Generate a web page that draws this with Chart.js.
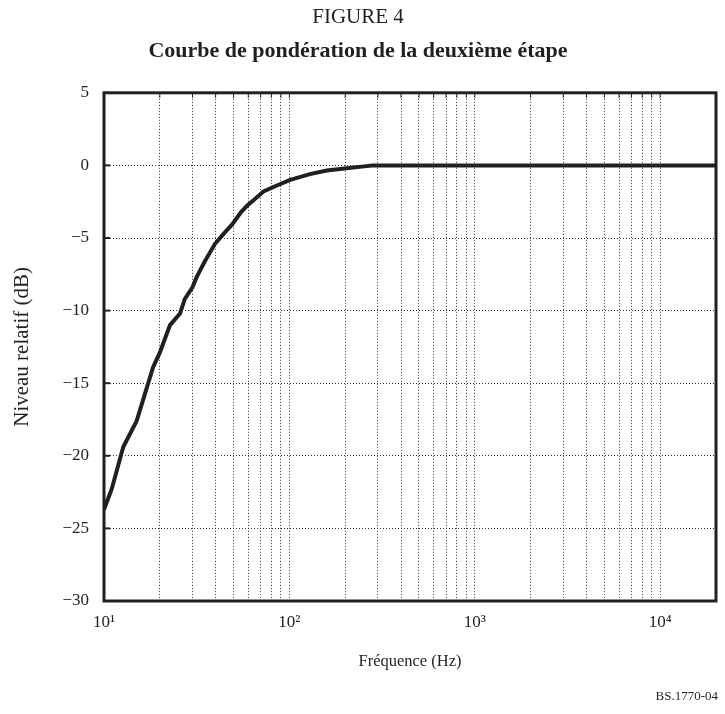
<!DOCTYPE html>
<html lang="fr">
<head>
<meta charset="utf-8">
<title>Figure 4</title>
<script src="https://cdn.jsdelivr.net/npm/chart.js@4/dist/chart.umd.min.js"></script>
<style>
  html, body { margin: 0; padding: 0; background: #fff; }
  #cadre { position: relative; width: 725px; height: 714px; }
  #reference { position: absolute; right: 7px; top: 688px; font: 13px "Liberation Serif", serif; color: #231f20; }
</style>
</head>
<body>
<div id="cadre">
  <canvas id="graphique" width="725" height="714"></canvas>
  <div id="reference">BS.1770-04</div>
</div>
<script>
// Points (fréquence en Hz, niveau relatif en dB)
const frequences = [10, 11, 12.7, 15, 18.4, 20, 22.7, 25.7, 27.3, 30, 31.6, 35, 39.7, 45, 48.9, 55, 58.9, 64, 72.5, 85, 101, 129, 159, 204, 260, 280, 20000];
const niveaux = [-23.7, -22.3, -19.4, -17.6, -13.9, -12.9, -11.0, -10.2, -9.2, -8.4, -7.7, -6.6, -5.4, -4.6, -4.1, -3.2, -2.8, -2.4, -1.8, -1.4, -1.0, -0.6, -0.35, -0.2, -0.05, 0, 0];

// Graduations de l'axe des fréquences
const lignesX = [10, 20, 30, 40, 50, 60, 70, 80, 90, 100, 200, 300, 400, 500, 600, 700, 800, 900, 1000, 2000, 3000, 4000, 5000, 6000, 7000, 8000, 9000, 10000];
const decades = [10, 100, 1000, 10000];
const etiquettesX = ['10¹', '10²', '10³', '10⁴'];
const graduationsY = [5, 0, -5, -10, -15, -20, -25, -30];

const encre = '#231f20';
const police = '"Liberation Serif", "Times New Roman", serif';

// Cadre épais et petites graduations vers l'intérieur
const cadrePlugin = {
    id: 'cadre',
    afterDatasetsDraw(chart) {
        const { ctx, chartArea } = chart;
        const sx = chart.scales.x, sy = chart.scales.y;
        ctx.save();
        ctx.strokeStyle = encre;
        ctx.lineWidth = 2;
        graduationsY.forEach(v => {
            const y = sy.getPixelForValue(v);
            ctx.beginPath();
            ctx.moveTo(chartArea.left, y);
            ctx.lineTo(chartArea.left + 6, y);
            ctx.stroke();
        });
        ctx.lineWidth = 1;
        lignesX.forEach(v => {
            const x = sx.getPixelForValue(v);
            ctx.beginPath();
            ctx.moveTo(x, chartArea.top);
            ctx.lineTo(x, chartArea.top + 5);
            ctx.stroke();
        });
        ctx.lineWidth = 3;
        ctx.strokeRect(chartArea.left, chartArea.top, chartArea.right - chartArea.left, chartArea.bottom - chartArea.top);
        ctx.restore();
    }
};

const ctx = document.getElementById('graphique').getContext('2d');

new Chart(ctx, {
    type: 'line',
    data: {
        datasets: [{
            data: frequences.map((f, i) => ({ x: f, y: niveaux[i] })),
            borderColor: encre,
            borderWidth: 4,
            pointRadius: 0,
            tension: 0,
            fill: false
        }]
    },
    options: {
        responsive: false,
        animation: false,
        layout: { padding: { top: 0, right: 9, bottom: 0, left: 0 } },
        plugins: {
            legend: { display: false },
            tooltip: { enabled: false },
            title: {
                display: true,
                text: 'FIGURE 4',
                color: encre,
                font: { family: police, size: 21, weight: 'normal' },
                padding: { top: 5, bottom: 7.7 }
            },
            subtitle: {
                display: true,
                text: 'Courbe de pondération de la deuxième étape',
                color: encre,
                font: { family: police, size: 22, weight: 'bold' },
                padding: { top: 0, bottom: 28.5 }
            }
        },
        scales: {
            x: {
                type: 'logarithmic',
                min: 10,
                max: 20000,
                afterBuildTicks: axe => { axe.ticks = lignesX.map(v => ({ value: v })); },
                afterFit: axe => { axe.height = 113; },
                grid: { color: '#333333', lineWidth: 1, drawTicks: false },
                border: { display: false, dash: [1, 2] },
                ticks: {
                    autoSkip: false,
                    maxRotation: 0,
                    padding: 11,
                    color: encre,
                    font: { family: police, size: 17 },
                    callback: v => {
                        const i = decades.indexOf(v);
                        return i >= 0 ? etiquettesX[i] : '';
                    }
                },
                title: {
                    display: true,
                    text: 'Fréquence (Hz)',
                    color: encre,
                    font: { family: police, size: 16.5 },
                    padding: { top: 0, bottom: 42 }
                }
            },
            y: {
                min: -30,
                max: 5,
                afterBuildTicks: axe => { axe.ticks = graduationsY.map(v => ({ value: v })); },
                afterFit: axe => { axe.width = 104; },
                grid: { color: '#333333', lineWidth: 1, drawTicks: false },
                border: { display: false, dash: [1, 2] },
                ticks: {
                    padding: 15,
                    color: encre,
                    font: { family: police, size: 17 },
                    callback: v => String(v).replace('-', '\u2212')
                },
                title: {
                    display: true,
                    text: 'Niveau relatif (dB)',
                    color: encre,
                    font: { family: police, size: 21 },
                    padding: { top: 10, bottom: 0 }
                }
            }
        }
    },
    plugins: [cadrePlugin]
});
</script>
</body>
</html>
